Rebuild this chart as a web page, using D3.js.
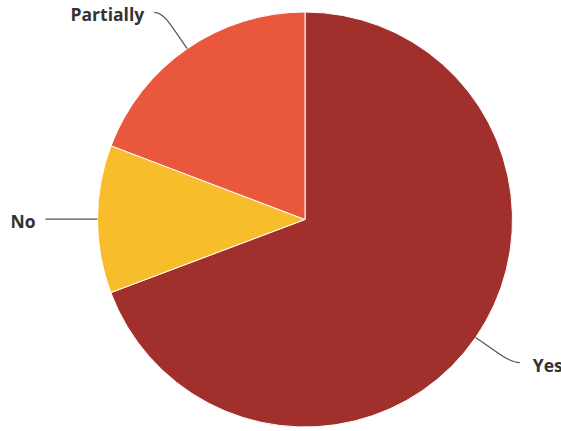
<!DOCTYPE html>
<html>
<head>
<meta charset="utf-8">
<script src="https://cdn.jsdelivr.net/npm/d3@7/dist/d3.min.js"></script>
<style>
  html, body { margin: 0; padding: 0; background: #fff; }
  svg { display: block; }
</style>
</head>
<body>
<svg id="chart" width="561" height="431"></svg>
<script>
const categories = ["Yes", "No", "Partially"];
const values = [69.2, 11.5, 19.2];
const colors = ["#a1302c", "#f8bd2b", "#e9583c"];

const W = 561, H = 431;
const cx = 305, cy = 219.5, radius = 207.5;

const svg = d3.select("#chart");
const g = svg.append("g").attr("transform", `translate(${cx},${cy})`);

const data = categories.map((c, i) => ({ name: c, value: values[i], color: colors[i] }));
const pie = d3.pie().sort(null).value(d => d.value).startAngle(0).endAngle(2 * Math.PI);
const arcs = pie(data);
const arc = d3.arc().innerRadius(0).outerRadius(radius);

g.selectAll("path.slice").data(arcs).join("path")
  .attr("class", "slice")
  .attr("d", arc)
  .attr("fill", d => d.data.color)
  .attr("stroke", "#ffffff")
  .attr("stroke-width", 1)
  .attr("stroke-linejoin", "round");

const pt = (a, r) => [Math.sin(a) * r, -Math.cos(a) * r];
const straight = 28, bend = 44, horiz = 8, gap = 10;

arcs.forEach(d => {
  const mid = (d.startAngle + d.endAngle) / 2;
  const A = pt(mid, radius);
  const B = pt(mid, radius + straight);
  const Q = pt(mid, radius + bend);
  const right = Math.sin(mid) >= 0;
  const C = [Q[0] + (right ? horiz : -horiz), Q[1]];
  g.append("path")
    .attr("d", `M${A[0]},${A[1]}L${B[0]},${B[1]}Q${Q[0]},${Q[1]} ${C[0]},${C[1]}`)
    .attr("fill", "none")
    .attr("stroke", "#555555")
    .attr("stroke-width", 1.2);
  g.append("text")
    .attr("x", C[0] + (right ? gap + 3 : -gap))
    .attr("y", C[1] + 9)
    .attr("text-anchor", right ? "start" : "end")
    .attr("font-family", "'Open Sans', sans-serif")
    .attr("font-weight", "bold")
    .attr("font-size", "17.5px")
    .attr("fill", "#333333")
    .text(d.data.name);
});
</script>
</body>
</html>
